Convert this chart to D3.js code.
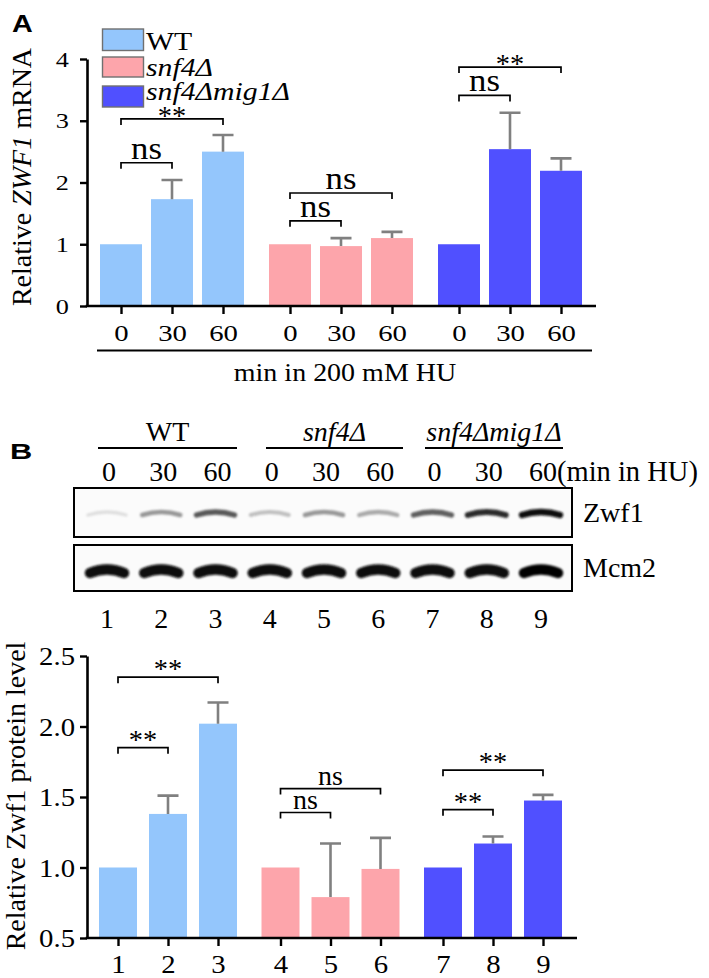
<!DOCTYPE html>
<html><head><meta charset="utf-8">
<script src="https://cdn.jsdelivr.net/npm/d3@7"></script>
<style>
body{margin:0;background:#fff}
svg{display:block}
text{font-family:"Liberation Serif","Times New Roman",serif;fill:#000}
text.sans{font-family:"Liberation Sans",Arial,sans-serif}
</style>
</head><body>
<svg id="c" width="709" height="978"></svg>
<script>
// ---------------- data ----------------
const groups = ["WT", "snf4Δ", "snf4Δmig1Δ"];
const timeLabels = ["0", "30", "60"];
const groupColors = ["#94c6fc", "#fda5ab", "#5050ff"];

// Panel A: relative ZWF1 mRNA (mean, upper error)
const mrnaWT = [1.00, 1.73, 2.50];
const mrnaSnf4 = [1.00, 0.97, 1.10];
const mrnaMig1 = [1.00, 2.54, 2.19];
const mrnaErrWT = [0, 0.31, 0.27];
const mrnaErrSnf4 = [0, 0.13, 0.10];
const mrnaErrMig1 = [0, 0.59, 0.20];
const mrnaTicks = [0, 1, 2, 3, 4];
// brackets: [group, fromTime, toTime, level, label]
const mrnaBrackets = [
  [0, 0, 2, 3.03, "**"], [0, 0, 1, 2.32, "ns"],
  [1, 0, 2, 1.83, "ns"], [1, 0, 1, 1.38, "ns"],
  [2, 0, 2, 3.87, "**"], [2, 0, 1, 3.41, "ns"]
];

// Panel B: western blot
const laneLabels = ["1", "2", "3", "4", "5", "6", "7", "8", "9"];
const blotTimes = ["0", "30", "60", "0", "30", "60", "0", "30", "60"];
const zwf1Signal = [0.22, 0.50, 0.72, 0.36, 0.50, 0.44, 0.70, 0.86, 0.95];
const mcm2Signal = [0.97, 0.97, 0.97, 0.97, 0.96, 0.96, 0.96, 0.97, 0.98];

// Panel B: relative Zwf1 protein level
const protWT = [1.00, 1.38, 2.02];
const protSnf4 = [1.00, 0.79, 0.99];
const protMig1 = [1.00, 1.17, 1.475];
const protErrWT = [0, 0.13, 0.15];
const protErrSnf4 = [0, 0.38, 0.22];
const protErrMig1 = [0, 0.05, 0.04];
const protTicks = [0.5, 1.0, 1.5, 2.0, 2.5];
const protBrackets = [
  [0, 0, 2, 2.35, "**"], [0, 0, 1, 1.85, "**"],
  [1, 0, 2, 1.56, "ns"], [1, 0, 1, 1.39, "ns"],
  [2, 0, 2, 1.69, "**"], [2, 0, 1, 1.41, "**"]
];

// ---------------- helpers ----------------
const svg = d3.select("#c");
function txt(sel, x, y, s, o = {}) {
  const t = sel.append("text")
    .attr("transform", `translate(${x},${y})` + (o.rot ? ` rotate(${o.rot})` : "") + ` scale(${o.sx || 1},1)`)
    .attr("font-size", o.size || 28)
    .attr("text-anchor", o.anchor || "start");
  if (o.italic) t.attr("font-style", "italic");
  if (o.bold) t.attr("font-weight", "bold");
  if (o.cls) t.attr("class", o.cls);
  if (s != null) t.text(s);
  return t;
}

function barPanel(cfg) {
  const g = svg.append("g");
  const y = d3.scaleLinear().domain(cfg.yDomain).range(cfg.yRange);
  const gx = d3.scalePoint().domain(groups).range(cfg.groupRange);
  const tx = d3.scalePoint().domain(timeLabels).range([-cfg.inner, cfg.inner]);
  const cx = (gi, ti) => gx(groups[gi]) + tx(timeLabels[ti]);
  const base = cfg.yDomain[0];

  // bars
  cfg.series.forEach((vals, gi) => {
    g.selectAll(null).data(vals).enter().append("rect")
      .attr("x", (d, ti) => cx(gi, ti) - cfg.bw / 2)
      .attr("y", d => y(d))
      .attr("width", cfg.bw)
      .attr("height", d => y(base) - y(d))
      .attr("fill", groupColors[gi]);
  });
  // error bars
  cfg.series.forEach((vals, gi) => {
    const errs = cfg.errs[gi];
    vals.forEach((v, ti) => {
      if (!errs[ti]) return;
      const x = cx(gi, ti), y0 = y(v), y1 = y(v + errs[ti]);
      g.append("path").attr("d", `M${x},${y0}V${y1}M${x - 10.5},${y1}H${x + 10.5}`)
        .attr("stroke", "#808080").attr("stroke-width", 2.6).attr("fill", "none");
    });
  });
  // y axis
  const ya = g.append("g").attr("transform", `translate(${cfg.axisX},0)`)
    .call(d3.axisLeft(y).tickValues(cfg.ticks).tickSize(7).tickSizeOuter(0).tickFormat(cfg.fmt));
  ya.select(".domain").attr("stroke-width", 2.6);
  ya.selectAll(".tick line").attr("stroke-width", 2.4);
  ya.selectAll(".tick text").attr("font-size", cfg.tickSize)
    .attr("x", -cfg.tickGap / cfg.tickSx).attr("dy", "0.34em")
    .attr("transform", `scale(${cfg.tickSx},1)`);
  // x axis
  const keys = [], pos = [];
  groups.forEach((gr, gi) => timeLabels.forEach((t, ti) => { keys.push(gi + "-" + ti); pos.push(cx(gi, ti)); }));
  const xs = d3.scaleOrdinal().domain(keys).range(pos);
  const xa = g.append("g").attr("transform", `translate(0,${y(base)})`)
    .call(d3.axisBottom(xs).tickValues(keys).tickSize(8).tickSizeOuter(0).tickFormat((d, i) => cfg.xLabels[i]));
  xa.select(".domain").remove();
  xa.selectAll(".tick line").attr("stroke-width", 2.4);
  xa.selectAll(".tick text").attr("font-size", cfg.xTickSize)
    .attr("y", 0).attr("dy", 0).attr("transform", `translate(0,${cfg.xLabelY}) scale(${cfg.tickSx},1)`);
  g.append("line").attr("x1", cfg.axisX - 1.3).attr("x2", cfg.axisEnd)
    .attr("y1", y(base)).attr("y2", y(base)).attr("stroke", "#000").attr("stroke-width", 2.6);
  // brackets
  cfg.brackets.forEach(([gi, a, b, lvl, lab]) => {
    const x1 = cx(gi, a), x2 = cx(gi, b), yy = y(lvl);
    g.append("path").attr("d", `M${x1},${yy + 6}V${yy}H${x2}V${yy + 6}`)
      .attr("stroke", "#000").attr("stroke-width", 1.7).attr("fill", "none");
    if (lab === "**") txt(g, (x1 + x2) / 2, yy + cfg.starDy, lab, { size: cfg.starSize, anchor: "middle", sx: 1.05 });
    else txt(g, (x1 + x2) / 2, yy - 4, lab, { size: cfg.nsSize, anchor: "middle", sx: cfg.nsSx });
  });
  return { g, y, cx };
}

// ---------------- Panel A ----------------
txt(svg, 12, 32, "A", { size: 23, bold: true, cls: "sans", sx: 1.25 });

const A = barPanel({
  yDomain: [0, 4], yRange: [306, 59], groupRange: [172, 510], inner: 51, bw: 42,
  series: [mrnaWT, mrnaSnf4, mrnaMig1], errs: [mrnaErrWT, mrnaErrSnf4, mrnaErrMig1],
  ticks: mrnaTicks, fmt: d3.format("d"), axisX: 87, axisEnd: 596,
  tickSize: 21, tickSx: 1.25, tickGap: 18, xTickSize: 23, xLabelY: 35,
  xLabels: timeLabels.concat(timeLabels, timeLabels),
  brackets: mrnaBrackets, starSize: 27, starDy: 6, nsSize: 31, nsSx: 1.12
});
// legend
const leg = svg.append("g");
const legY = [29, 57, 86], legH = [21.5, 20, 21], legBase = [49.5, 76, 100];
groups.forEach((gr, i) => {
  leg.append("rect").attr("x", 102.5).attr("y", legY[i]).attr("width", 41).attr("height", legH[i])
    .attr("fill", groupColors[i]).attr("stroke", "#707070").attr("stroke-width", 1.4);
  txt(leg, 146, legBase[i], gr, { size: 25, italic: i > 0, sx: 1.19 });
});
// x grouping line + title
svg.append("line").attr("x1", 97).attr("x2", 592).attr("y1", 350.5).attr("y2", 350.5)
  .attr("stroke", "#000").attr("stroke-width", 2);
txt(svg, 345, 381, "min in 200 mM HU", { size: 25, anchor: "middle", sx: 1.12 });
// y label
const yla = txt(svg, 31, 177, null, { size: 28, anchor: "middle", rot: -90 });
yla.append("tspan").text("Relative ");
yla.append("tspan").attr("font-style", "italic").text("ZWF1");
yla.append("tspan").text(" mRNA");

// ---------------- Panel B: blot ----------------
txt(svg, 10, 459, "B", { size: 22, bold: true, cls: "sans", sx: 1.4 });
const lane = d3.scalePoint().domain(laneLabels).range([107, 541]);
const blot = svg.append("g");
const defs = svg.append("defs");
defs.append("filter").attr("id", "blur").append("feGaussianBlur").attr("stdDeviation", 0.8);

// group headers
const hdrX = [[98, 237], [266, 403], [425, 563]];
groups.forEach((gr, i) => {
  blot.append("line").attr("x1", hdrX[i][0]).attr("x2", hdrX[i][1]).attr("y1", 448).attr("y2", 448)
    .attr("stroke", "#000").attr("stroke-width", 2);
  txt(blot, (hdrX[i][0] + hdrX[i][1]) / 2, 441, gr, { size: 28, anchor: "middle", italic: i > 0 });
});
blotTimes.forEach((t, i) => txt(blot, lane(laneLabels[i]) + 2, 481, t, { size: 28, anchor: "middle" }));
txt(blot, 557, 481, "(min in HU)", { size: 28.5 });

// boxes
blot.append("rect").attr("x", 74).attr("y", 488).attr("width", 498).attr("height", 49)
  .attr("fill", "#fbfbfb").attr("stroke", "#000").attr("stroke-width", 2);
blot.append("rect").attr("x", 74).attr("y", 545).attr("width", 498).attr("height", 46)
  .attr("fill", "#fbfbfb").attr("stroke", "#000").attr("stroke-width", 2);

// bands
const bands = blot.append("g").attr("filter", "url(#blur)");
bands.selectAll(".z").data(zwf1Signal).enter().append("path")
  .attr("d", (d, i) => { const c = lane(laneLabels[i]); return `M${c - 19},${515}Q${c},${509} ${c + 19},${515}`; })
  .attr("fill", "none").attr("stroke", d => d3.interpolateGreys(d))
  .attr("stroke-width", d => 2.5 + 4 * d).attr("stroke-linecap", "round");
bands.selectAll(".m").data(mcm2Signal).enter().append("path")
  .attr("d", (d, i) => { const c = lane(laneLabels[i]); return `M${c - 17},${573}Q${c},${566} ${c + 17},${573}`; })
  .attr("fill", "none").attr("stroke", d => d3.interpolateGreys(d))
  .attr("stroke-width", 10.5).attr("stroke-linecap", "round");

txt(blot, 583, 522, "Zwf1", { size: 28 });
txt(blot, 583, 577, "Mcm2", { size: 28 });
laneLabels.forEach(l => txt(blot, lane(l), 628, l, { size: 28, anchor: "middle" }));

// ---------------- Panel B: protein chart ----------------
const B = barPanel({
  yDomain: [0.5, 2.5], yRange: [938, 656], groupRange: [168, 493], inner: 50, bw: 38,
  series: [protWT, protSnf4, protMig1], errs: [protErrWT, protErrSnf4, protErrMig1],
  ticks: protTicks, fmt: d3.format(".1f"), axisX: 87, axisEnd: 577,
  tickSize: 25, tickSx: 1.15, tickGap: 12, xTickSize: 25, xLabelY: 35,
  xLabels: laneLabels,
  brackets: protBrackets, starSize: 27, starDy: 1, nsSize: 28, nsSx: 1.0
});
txt(svg, 25, 796, "Relative Zwf1 protein level", { size: 28, anchor: "middle", rot: -90 });
</script>
</body></html>
